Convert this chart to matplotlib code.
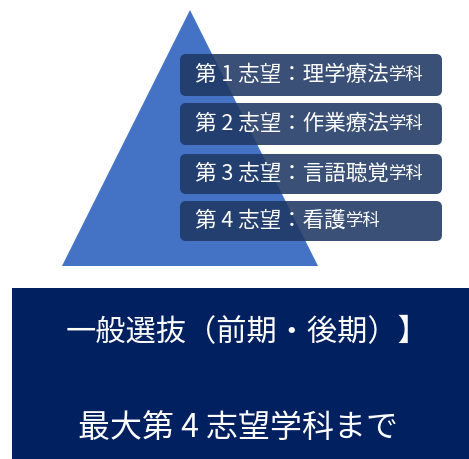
import matplotlib
matplotlib.use("Agg")
import matplotlib.pyplot as plt
from matplotlib.patches import Polygon, FancyBboxPatch, Rectangle

plt.rcParams['font.family'] = ['Noto Sans CJK JP', 'DejaVu Sans']

# Data
ranks = ["1", "2", "3", "4"]
departments = ["理学療法", "作業療法", "言語聴覚", "看護"]
suffix = "学科"
title_line1 = "一般選抜（前期・後期）】"
title_line2 = "最大第 4 志望学科まで"

W, H = 469, 459
fig = plt.figure(figsize=(W / 100, H / 100), dpi=100)
ax = fig.add_axes([0, 0, 1, 1])
ax.set_xlim(0, W)
ax.set_ylim(H, 0)
ax.axis('off')

# Pyramid triangle
ax.add_patch(Polygon([(190, 10), (62, 266), (318, 266)], closed=True,
                     facecolor='#4472C4', edgecolor='none', zorder=1))

# Boxes
box_tops = [54, 103, 154, 201]
box_bottoms = [96, 145, 194, 241]
x0, x1 = 180, 442
for r, d, t, b in zip(ranks, departments, box_tops, box_bottoms):
    ax.add_patch(FancyBboxPatch((x0, t), x1 - x0, b - t,
                                boxstyle="round,pad=0,rounding_size=6",
                                facecolor='#1F3864', edgecolor='none',
                                alpha=0.88, zorder=2))
    yc = (t + b) / 2
    t1 = ax.text(195, yc, f"第 {r} 志望：{d}", color='white', fontsize=15.5,
                 va='center', ha='left', zorder=3)
    ax.annotate(suffix, xy=(1, 0.1), xycoords=t1, color='white',
                fontsize=12.5, va='bottom', ha='left', zorder=3)

# Bottom banner
ax.add_patch(Rectangle((12, 288), W - 12, H - 288, facecolor='#002060',
                       edgecolor='none', zorder=1))
ax.text(247, 333, title_line1, color='white', fontsize=21.8, ha='center',
        va='center', zorder=3)
ax.text(238, 428, title_line2, color='white', fontsize=23, ha='center',
        va='center', zorder=3)

fig.savefig("out.png", dpi=100)
